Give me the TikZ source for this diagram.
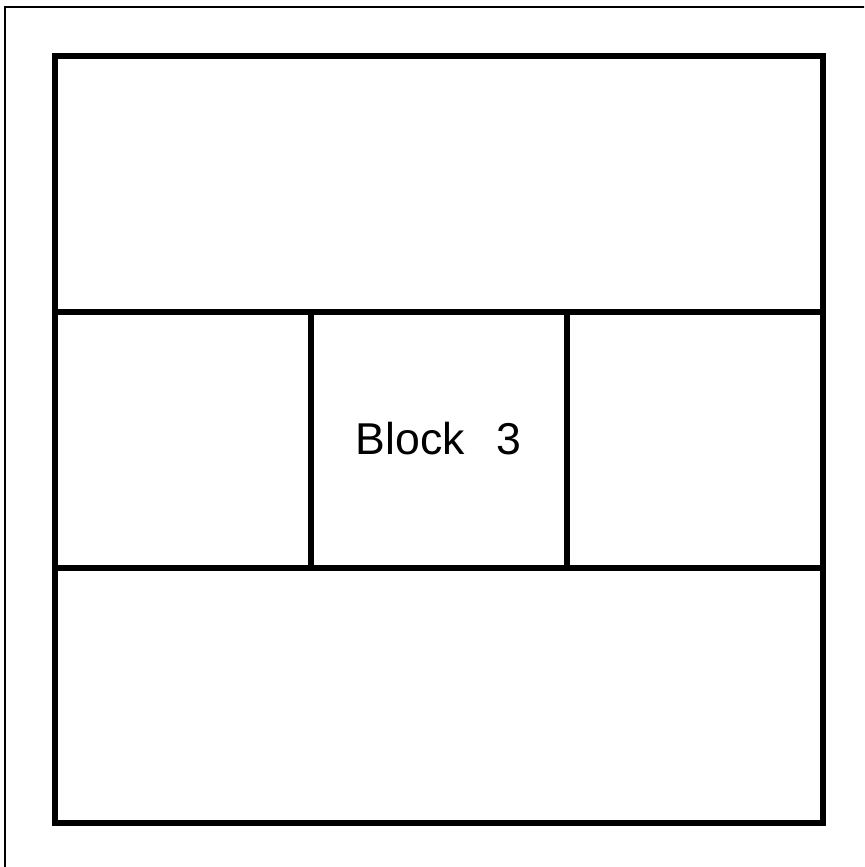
\documentclass[tikz,border=0pt]{standalone}
\usepackage{fontspec}
\setmainfont{Liberation Sans}
\begin{document}
\begin{tikzpicture}[x=0.5pt,y=-0.5pt,
  thick line/.style={line width=2.6pt, line cap=rect},
  thin line/.style={line width=1.1pt},
  label text/.style={font=\fontsize{22.3}{26}\selectfont, inner sep=0pt}]
\useasboundingbox (0,0) rectangle (864,867);
\begin{scope}
\clip (0,0) rectangle (864,867);
\draw[thin line] (5,7) rectangle (900,900);
\end{scope}
% outer block
\coordinate (tl) at (55,56);
\coordinate (br) at (823,823);
\draw[thick line] (tl) rectangle (br);
% horizontal dividers
\coordinate (h1l) at (55,312);
\coordinate (h1r) at (823,312);
\coordinate (h2l) at (55,568);
\coordinate (h2r) at (823,568);
\draw[thick line] (h1l) -- (h1r);
\draw[thick line] (h2l) -- (h2r);
% vertical dividers
\coordinate (v1t) at (311,312);
\coordinate (v1b) at (311,568);
\coordinate (v2t) at (567,312);
\coordinate (v2b) at (567,568);
\draw[thick line] (v1t) -- (v1b);
\draw[thick line] (v2t) -- (v2b);
\node[label text] (b3) at (438.5,439) {Block\hspace{16pt}3};
\end{tikzpicture}
\end{document}
